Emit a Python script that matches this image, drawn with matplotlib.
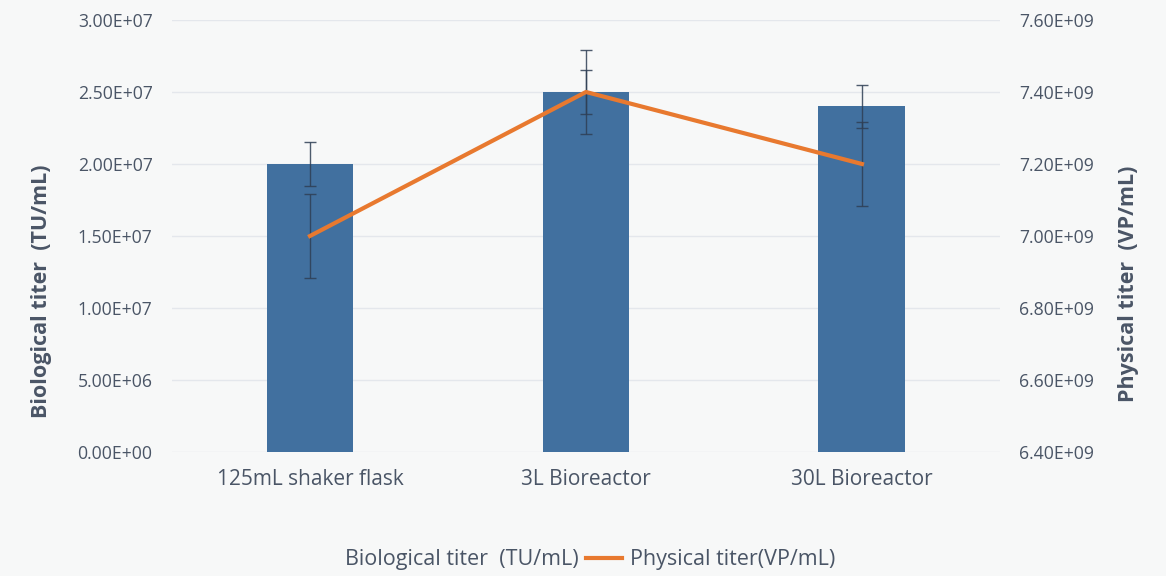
import matplotlib
matplotlib.use('Agg')
import numpy as np
from matplotlib import pyplot as plt
from matplotlib.patches import Rectangle
from matplotlib.lines import Line2D

categories = ['125mL shaker flask', '3L Bioreactor', '30L Bioreactor']
bio_titer = [2.0e7, 2.5e7, 2.4e7]
bio_err = [1.5e6, 1.5e6, 1.5e6]
phys_titer = [7.0e9, 7.4e9, 7.2e9]
phys_err = [1.17e8, 1.17e8, 1.17e8]

left_ticks = [0, 5e6, 1e7, 1.5e7, 2e7, 2.5e7, 3e7]
right_ticks = [6.4e9, 6.6e9, 6.8e9, 7.0e9, 7.2e9, 7.4e9, 7.6e9]

bar_color = '#41709f'
line_color = '#e8792f'
err_color = '#2f3f55'
text_color = '#4a5566'
bg = '#f7f8f8'
grid_color = '#e4e7ec'

plt.rcParams['font.family'] = ['Open Sans', 'DejaVu Sans']

fig = plt.figure(figsize=(11.66, 5.76), dpi=100)
fig.set_facecolor(bg)
ax = fig.add_axes([0.1475, 0.2153, 0.7101, 0.75])
ax.set_facecolor(bg)
ax2 = ax.twinx()

x = np.arange(len(categories))

# bars on left axis
ax.bar(x, bio_titer, width=0.315, color=bar_color, zorder=2)
ax.errorbar(x, bio_titer, yerr=bio_err, fmt='none', ecolor=err_color,
            elinewidth=1, capsize=4, capthick=1, alpha=0.85, zorder=3)

# line on right axis
ax2.plot(x, phys_titer, color=line_color, linewidth=3, zorder=4)
ax2.errorbar(x, phys_titer, yerr=phys_err, fmt='none', ecolor=err_color,
             elinewidth=1, capsize=4, capthick=1, alpha=0.85, zorder=3)

ax.set_xlim(-0.5, 2.5)
ax.set_ylim(0, 3e7)
ax2.set_ylim(6.4e9, 7.6e9)

ax.set_yticks(left_ticks)
ax.set_yticklabels(['%.2E' % v for v in left_ticks])
ax2.set_yticks(right_ticks)
ax2.set_yticklabels(['%.2E' % v for v in right_ticks])
ax.set_xticks(x)
ax.set_xticklabels(categories)

ax.grid(axis='y', color=grid_color, linewidth=1, zorder=0)
ax.set_axisbelow(True)
for a in (ax, ax2):
    for s in a.spines.values():
        s.set_visible(False)
    a.tick_params(length=0, colors=text_color, labelsize=12.7)
ax.tick_params(axis='y', pad=14)
ax2.tick_params(axis='y', pad=14)
ax.tick_params(axis='x', pad=12, labelsize=15)

ax.set_ylabel('Biological titer  (TU/mL)', fontsize=15.5, fontweight='bold',
              color=text_color)
ax2.set_ylabel('Physical titer  (VP/mL)', fontsize=15.5, fontweight='bold',
               color=text_color)
# labels sit a little below the axis middle in the reference
ax.yaxis.set_label_coords(-0.145, 0.373)
ax2.yaxis.set_label_coords(1.142, 0.39)

handles = [Rectangle((0, 0), 1, 1, alpha=0),
           Line2D([0], [0], color=line_color, linewidth=3)]
leg = fig.legend(handles, ['Biological titer  (TU/mL)', 'Physical titer(VP/mL)'],
                 loc='center', bbox_to_anchor=(0.487, 0.028), ncol=2, frameon=False,
                 fontsize=15.5, handlelength=1.7, handletextpad=0.35, columnspacing=0.35)
for t in leg.get_texts():
    t.set_color(text_color)

fig.savefig('out.png', dpi=100, facecolor=bg)
